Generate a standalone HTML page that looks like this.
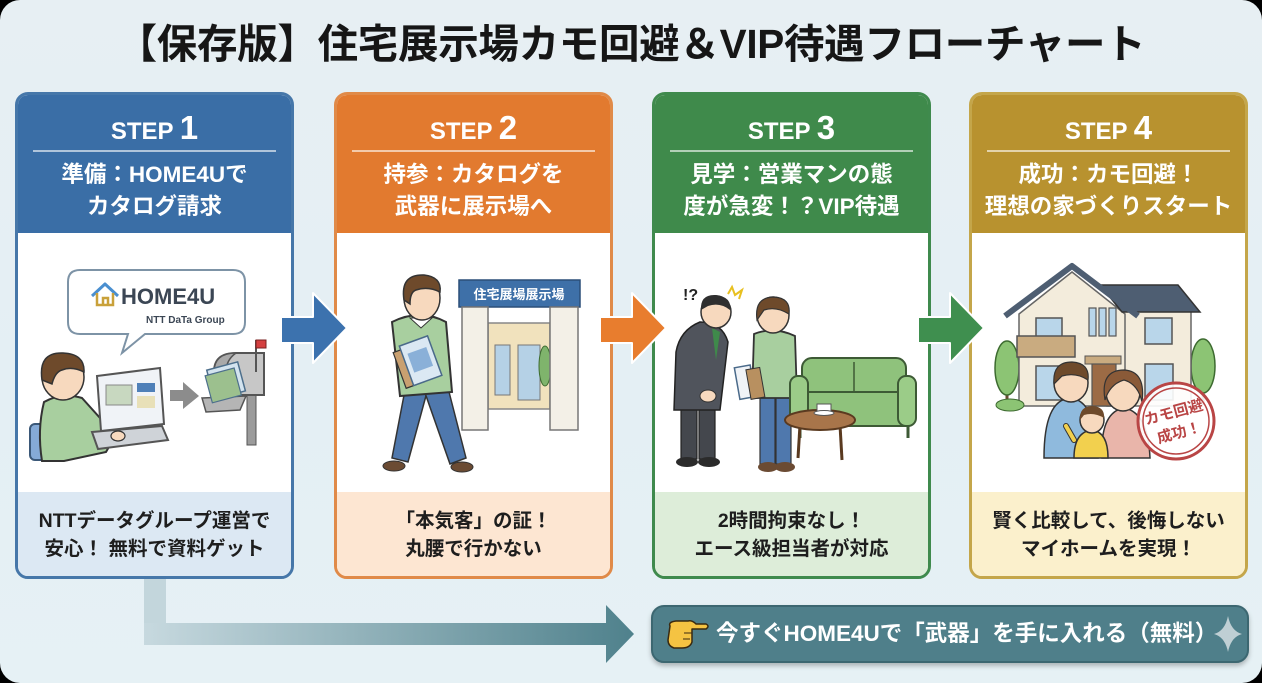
<!DOCTYPE html>
<html><head><meta charset="utf-8">
<style>
html,body{margin:0;padding:0;width:1262px;height:683px;overflow:hidden;background:#000;}
#page{position:absolute;left:0;top:0;width:1262px;height:683px;border-radius:20px;background:linear-gradient(180deg,#e7eff3 0%,#e4eff4 60%,#e6f1f5 100%);overflow:hidden;font-family:"Liberation Sans","Noto Sans CJK JP",sans-serif;}
.title{position:absolute;left:0;top:22px;width:1262px;text-align:center;font-size:40.5px;line-height:44px;font-weight:bold;color:#161616;font-family:"Liberation Sans","Noto Sans CJK JP",sans-serif;letter-spacing:-0.3px;}
.card{position:absolute;top:92px;width:279px;height:487px;box-sizing:border-box;border:3px solid;border-radius:13px;overflow:hidden;background:#fff;}
.head{position:absolute;left:0;top:0;right:0;height:138px;color:#fff;}
.step{position:absolute;left:0;right:0;top:14px;height:38px;line-height:38px;text-align:center;font-weight:bold;font-size:24px;}
.step b{font-size:33px;}
.div{position:absolute;left:15px;right:15px;top:55px;height:2px;background:rgba(255,255,255,.6);}
.ttl{position:absolute;left:0;right:0;top:64px;text-align:center;font-weight:bold;font-size:22.5px;line-height:32px;font-family:"Liberation Sans","Noto Sans CJK JP",sans-serif;}
.foot{position:absolute;left:0;right:0;top:397px;height:90px;text-align:center;font-weight:bold;font-size:19.5px;line-height:28px;color:#1e1e1e;padding-top:15px;box-sizing:border-box;}
.c1{left:15px;border-color:#4677a9;} .c1 .head{background:#3a6ea6;} .c1 .foot{background:#dce8f3;}
.c2{left:334px;border-color:#e08a48;} .c2 .head{background:#e27a2f;} .c2 .foot{background:#fde6d2;}
.c3{left:652px;border-color:#3f8a4d;} .c3 .head{background:#3f8a4b;} .c3 .foot{background:#ddedd9;}
.c4{left:969px;border-color:#c4a64a;} .c4 .head{background:#b8922f;} .c4 .foot{background:#fbf0cc;}
.cta{position:absolute;left:651px;top:605px;width:598px;height:58px;box-sizing:border-box;border-radius:13px;background:#4f7f8a;border:2px solid #3c6771;box-shadow:0 3px 5px rgba(0,0,0,.25);}
.ctatext{position:absolute;left:716px;top:617px;font-size:22.5px;line-height:34px;font-weight:bold;color:#fff;white-space:nowrap;}
svg{position:absolute;left:0;top:0;}
</style></head>
<body><div id="page">
<div class="title">【保存版】住宅展示場カモ回避＆VIP待遇フローチャート</div>

<div class="card c1"><div class="head"><div class="step">STEP <b>1</b></div><div class="div"></div><div class="ttl">準備：HOME4Uで<br>カタログ請求</div></div>
<div class="foot">NTTデータグループ運営で<br>安心！ 無料で資料ゲット</div></div>

<div class="card c2"><div class="head"><div class="step">STEP <b>2</b></div><div class="div"></div><div class="ttl">持参：カタログを<br>武器に展示場へ</div></div>
<div class="foot">「本気客」の証！<br>丸腰で行かない</div></div>

<div class="card c3"><div class="head"><div class="step">STEP <b>3</b></div><div class="div"></div><div class="ttl">見学：営業マンの態<br>度が急変！？VIP待遇</div></div>
<div class="foot">2時間拘束なし！<br>エース級担当者が対応</div></div>

<div class="card c4"><div class="head"><div class="step">STEP <b>4</b></div><div class="div"></div><div class="ttl">成功：カモ回避！<br>理想の家づくりスタート</div></div>
<div class="foot">賢く比較して、後悔しない<br>マイホームを実現！</div></div>

<div class="cta"></div>

<svg width="1262" height="683" viewBox="0 0 1262 683" xmlns="http://www.w3.org/2000/svg">
<defs>
<linearGradient id="bar" x1="0" x2="1" y1="0" y2="0">
<stop offset="0" stop-color="#c7d9df"/><stop offset="1" stop-color="#4f818c"/>
</linearGradient>
</defs>
<g stroke="#fff" stroke-width="2" stroke-linejoin="round">
<path d="M281 317 H313 V293 L347 328 L313 363 V343 H281 Z" fill="#3c72ae"/>
<path d="M600 317 H632 V293 L666 328 L632 363 V343 H600 Z" fill="#e87d2e"/>
<path d="M918 317 H950 V293 L984 328 L950 363 V343 H918 Z" fill="#3f8f4f"/>
</g>
<rect x="144" y="579" width="22" height="66" fill="#c3d6dc"/>
<path d="M144 623 H606 V605 L634 634 L606 663 V645 H144 Z" fill="url(#bar)"/>

<!-- Card 1 -->
<path d="M80 270 H233 Q245 270 245 282 V322 Q245 334 233 334 H145 L122 353 L128 334 H80 Q68 334 68 322 V282 Q68 270 80 270 Z" fill="#fff" stroke="#7d93a6" stroke-width="2"/>
<path d="M92 296 L105 284 L118 296" fill="none" stroke="#4a8fd0" stroke-width="3" stroke-linejoin="round"/>
<path d="M97 293 V305 H113 V293 M103 305 V298 H108 V305" fill="none" stroke="#c9a13a" stroke-width="2.5"/>
<text x="121" y="304" font-size="22" font-weight="bold" fill="#3b4654" font-family="Liberation Sans, sans-serif">HOME4U</text>
<text x="146" y="323" font-size="10" font-weight="bold" fill="#3b4654" font-family="Liberation Sans, sans-serif">NTT DaTa Group</text>
<rect x="30" y="424" width="36" height="36" rx="5" fill="#85aad6" stroke="#3b5878" stroke-width="2"/>
<path d="M44 402 Q62 392 82 398 L100 418 L114 438 L106 452 L64 461 L42 461 Q37 430 44 402 Z" fill="#a8cf9f" stroke="#333" stroke-width="2"/>
<ellipse cx="63" cy="377" rx="21" ry="23" fill="#f7d9be" stroke="#333" stroke-width="1.5"/>
<path d="M42 380 Q38 352 63 353 Q85 354 84 372 Q72 366 62 370 Q55 372 52 384 Z" fill="#6e4a2b" stroke="#333" stroke-width="1.5"/>
<path d="M97 376 L160 368 L164 424 L101 431 Z" fill="#f0f3f7" stroke="#555" stroke-width="2"/>
<rect x="106" y="385" width="26" height="20" fill="#c8d8c0" stroke="#888" stroke-width="1"/>
<rect x="137" y="383" width="18" height="9" fill="#4f80b8"/>
<rect x="137" y="396" width="18" height="12" fill="#e8e0b8"/>
<path d="M92 432 L162 426 L168 440 L98 449 Z" fill="#cfd3d8" stroke="#555" stroke-width="2"/>
<ellipse cx="118" cy="436" rx="7" ry="5" fill="#f7d9be" stroke="#333" stroke-width="1.2"/>
<path d="M170 390 H183 V382 L199 396 L183 409 V401 H170 Z" fill="#8c8c8c"/>
<rect x="247" y="394" width="9" height="51" fill="#9b9b9b" stroke="#555" stroke-width="1"/>
<path d="M214 395 V372 Q214 353 236 353 H264 V395 Z" fill="#c7c7c7" stroke="#555" stroke-width="2"/>
<path d="M214 372 Q214 353 236 353 Q226 360 226 372 V395 H214 Z" fill="#a9a9a9" stroke="#555" stroke-width="1.5"/>
<path d="M202 398 L246 396 L240 410 L206 412 Z" fill="#b5b5b5" stroke="#555" stroke-width="1.5"/>
<g transform="rotate(-15 228 380)"><rect x="210" y="365" width="32" height="30" fill="#d4e4ef" stroke="#4d6f8c" stroke-width="1.5"/><rect x="207" y="370" width="30" height="28" fill="#9cc08e" stroke="#4d6f8c" stroke-width="1.2"/></g>
<line x1="256" y1="340" x2="256" y2="372" stroke="#555" stroke-width="2"/>
<rect x="256" y="340" width="10" height="8" fill="#d44040" stroke="#7a2020" stroke-width="1"/>

<!-- Card 2 -->
<rect x="459" y="280" width="121" height="27" fill="#3e70a8" stroke="#2c4f78" stroke-width="1.5"/>
<text x="519" y="299" font-size="13" font-weight="bold" fill="#fff" text-anchor="middle" font-family="Noto Sans CJK JP, sans-serif">住宅展場展示場</text>
<rect x="488" y="323" width="62" height="86" fill="#f1e2bd" stroke="#888" stroke-width="1.5"/>
<rect x="495" y="345" width="15" height="50" fill="#b5d1e6" stroke="#777" stroke-width="1"/>
<rect x="518" y="345" width="22" height="55" fill="#b5d1e6" stroke="#777" stroke-width="1"/>
<ellipse cx="545" cy="366" rx="6" ry="20" fill="#7fb46c" stroke="#3d6b30" stroke-width="1"/>
<rect x="462" y="307" width="26" height="123" fill="#f3f0e7" stroke="#777" stroke-width="1.5"/>
<rect x="550" y="307" width="28" height="123" fill="#f3f0e7" stroke="#777" stroke-width="1.5"/>
<path d="M405 390 L427 392 L408 462 L392 458 Z" fill="#4f78ad" stroke="#333" stroke-width="1.5"/>
<path d="M424 390 L448 388 L466 458 L450 464 Z" fill="#4f78ad" stroke="#333" stroke-width="1.5"/>
<ellipse cx="394" cy="466" rx="11" ry="5" fill="#6b4b33" stroke="#333" stroke-width="1"/>
<ellipse cx="462" cy="467" rx="11" ry="5" fill="#6b4b33" stroke="#333" stroke-width="1"/>
<path d="M392 322 Q420 308 446 322 L452 392 L400 396 Z" fill="#a8cf9f" stroke="#333" stroke-width="2"/>
<path d="M410 318 L421 328 L432 318 Z" fill="#fff" stroke="#333" stroke-width="1"/>
<ellipse cx="422" cy="298" rx="18" ry="22" fill="#f7d9be" stroke="#333" stroke-width="1.5"/>
<path d="M404 300 Q400 274 424 275 Q442 277 440 292 Q428 286 416 290 Q410 292 410 304 Z" fill="#6e4a2b" stroke="#333" stroke-width="1.5"/>
<g transform="rotate(-20 420 362)"><rect x="398" y="344" width="20" height="38" fill="#c9a070" stroke="#333" stroke-width="1.2"/><rect x="406" y="340" width="30" height="42" fill="#dbe8f3" stroke="#4a6a8a" stroke-width="1.5"/><rect x="411" y="350" width="20" height="20" fill="#8ab0d8"/></g>

<!-- Card 3 -->
<text x="683" y="300" font-size="16" font-weight="bold" fill="#222" font-family="Liberation Sans, sans-serif">!?</text>
<path d="M728 294 L732 287 L735 295 L742 290 L739 299" fill="none" stroke="#e8c020" stroke-width="2"/>
<rect x="681" y="405" width="16" height="54" fill="#44474d" stroke="#222" stroke-width="1.2"/>
<rect x="699" y="405" width="16" height="54" fill="#44474d" stroke="#222" stroke-width="1.2"/>
<ellipse cx="687" cy="462" rx="11" ry="5" fill="#2b2b2b"/>
<ellipse cx="709" cy="462" rx="11" ry="5" fill="#2b2b2b"/>
<path d="M700 322 Q680 330 676 352 L674 410 L720 410 L728 342 Q722 322 700 322 Z" fill="#50545c" stroke="#222" stroke-width="1.5"/>
<path d="M712 328 L716 360 L720 332 Z" fill="#3f8a4b"/>
<ellipse cx="716" cy="312" rx="15" ry="16" fill="#f7d9be" stroke="#333" stroke-width="1.5"/>
<path d="M701 310 Q700 294 716 295 Q732 297 730 310 Q720 302 708 306 Z" fill="#2f2f2f"/>
<ellipse cx="708" cy="396" rx="8" ry="6" fill="#f7d9be" stroke="#333" stroke-width="1"/>
<rect x="760" y="396" width="15" height="68" fill="#4f78ad" stroke="#333" stroke-width="1.2"/>
<rect x="776" y="396" width="15" height="68" fill="#4f78ad" stroke="#333" stroke-width="1.2"/>
<ellipse cx="768" cy="467" rx="10" ry="5" fill="#6b4b33"/>
<ellipse cx="785" cy="467" rx="10" ry="5" fill="#6b4b33"/>
<path d="M754 334 Q774 326 795 336 L797 398 L752 398 Z" fill="#a8cf9f" stroke="#333" stroke-width="1.8"/>
<ellipse cx="773" cy="315" rx="16" ry="18" fill="#f7d9be" stroke="#333" stroke-width="1.5"/>
<path d="M757 320 Q754 297 774 297 Q791 298 789 314 Q776 306 764 310 Z" fill="#6e4a2b" stroke="#333" stroke-width="1.2"/>
<g transform="rotate(-10 746 382)"><rect x="737" y="366" width="16" height="32" fill="#f0f3f7" stroke="#4a6a8a" stroke-width="1.5"/><rect x="748" y="370" width="14" height="30" fill="#b89060" stroke="#333" stroke-width="1"/></g>
<rect x="802" y="358" width="104" height="40" rx="10" fill="#8fc27c" stroke="#3d5a35" stroke-width="2"/>
<line x1="854" y1="362" x2="854" y2="396" stroke="#3d5a35" stroke-width="1.5"/>
<rect x="796" y="392" width="116" height="34" rx="8" fill="#8fc27c" stroke="#3d5a35" stroke-width="2"/>
<rect x="790" y="376" width="18" height="50" rx="8" fill="#9bcc88" stroke="#3d5a35" stroke-width="2"/>
<rect x="898" y="376" width="18" height="50" rx="8" fill="#9bcc88" stroke="#3d5a35" stroke-width="2"/>
<line x1="800" y1="426" x2="800" y2="438" stroke="#3d5a35" stroke-width="3"/>
<line x1="908" y1="426" x2="908" y2="438" stroke="#3d5a35" stroke-width="3"/>
<line x1="800" y1="425" x2="798" y2="458" stroke="#5a3a20" stroke-width="3"/>
<line x1="840" y1="425" x2="842" y2="460" stroke="#5a3a20" stroke-width="3"/>
<ellipse cx="820" cy="420" rx="35" ry="10" fill="#a8754a" stroke="#5a3a20" stroke-width="2"/>
<path d="M817 404 H831 V412 Q824 416 817 412 Z" fill="#fff" stroke="#555" stroke-width="1"/>
<ellipse cx="824" cy="413" rx="10" ry="2.5" fill="#fff" stroke="#555" stroke-width="1"/>

<!-- Card 4 -->
<line x1="1007" y1="385" x2="1007" y2="405" stroke="#6b4b33" stroke-width="3"/>
<ellipse cx="1007" cy="368" rx="12" ry="27" fill="#8cc474" stroke="#3d6b30" stroke-width="1.5"/>
<line x1="1203" y1="383" x2="1203" y2="405" stroke="#6b4b33" stroke-width="3"/>
<ellipse cx="1203" cy="366" rx="12" ry="27" fill="#8cc474" stroke="#3d6b30" stroke-width="1.5"/>
<rect x="1107" y="306" width="84" height="100" fill="#f3ecdc" stroke="#666" stroke-width="1.5"/>
<path d="M1019 314 L1072 272 L1125 314 V406 H1019 Z" fill="#f3ecdc" stroke="#666" stroke-width="1.5"/>
<path d="M1100 285 H1178 L1200 312 H1122 Z" fill="#4e5e72" stroke="#333" stroke-width="1.5"/>
<path d="M1005 316 L1072 266 L1138 316" fill="none" stroke="#4e5e72" stroke-width="6" stroke-linejoin="round"/>
<rect x="1036" y="318" width="26" height="26" fill="#b9d6ea" stroke="#555" stroke-width="1.5"/>
<rect x="1089" y="308" width="7" height="28" fill="#b9d6ea" stroke="#555" stroke-width="1.2"/>
<rect x="1099" y="308" width="7" height="28" fill="#b9d6ea" stroke="#555" stroke-width="1.2"/>
<rect x="1109" y="308" width="7" height="28" fill="#b9d6ea" stroke="#555" stroke-width="1.2"/>
<rect x="1145" y="318" width="27" height="26" fill="#b9d6ea" stroke="#555" stroke-width="1.5"/>
<rect x="1017" y="336" width="58" height="21" fill="#c9ab80" stroke="#555" stroke-width="1.5"/>
<rect x="1036" y="366" width="26" height="34" fill="#b9d6ea" stroke="#555" stroke-width="1.5"/>
<rect x="1145" y="364" width="28" height="36" fill="#b9d6ea" stroke="#555" stroke-width="1.5"/>
<rect x="1085" y="356" width="36" height="8" fill="#c9ab80" stroke="#555" stroke-width="1"/>
<rect x="1092" y="364" width="24" height="42" fill="#9c6b45" stroke="#555" stroke-width="1.2"/>
<ellipse cx="1010" cy="405" rx="14" ry="6" fill="#8cc474" stroke="#3d6b30" stroke-width="1"/>
<path d="M1044 458 Q1044 400 1070 398 Q1096 400 1098 458 Z" fill="#8fbadd" stroke="#333" stroke-width="1.5"/>
<ellipse cx="1071" cy="383" rx="17" ry="19" fill="#f7d9be" stroke="#333" stroke-width="1.5"/>
<path d="M1054 384 Q1052 362 1072 362 Q1090 363 1088 380 Q1076 372 1062 376 Z" fill="#6e4a2b" stroke="#333" stroke-width="1.2"/>
<path d="M1102 458 Q1100 412 1124 408 Q1148 412 1150 458 Z" fill="#e9b5aa" stroke="#333" stroke-width="1.5"/>
<ellipse cx="1123" cy="392" rx="17" ry="19" fill="#f7d9be" stroke="#333" stroke-width="1.5"/>
<path d="M1105 400 Q1100 370 1124 370 Q1146 371 1142 402 Q1138 384 1124 380 Q1110 384 1105 400 Z" fill="#8a5a38" stroke="#333" stroke-width="1.2"/>
<path d="M1074 458 Q1074 432 1092 430 Q1108 432 1108 458 Z" fill="#f2d04e" stroke="#333" stroke-width="1.5"/>
<path d="M1074 440 L1066 426" stroke="#333" stroke-width="6" stroke-linecap="round"/>
<path d="M1074 440 L1066 426" stroke="#f2d04e" stroke-width="4" stroke-linecap="round"/>
<ellipse cx="1092" cy="420" rx="12" ry="13" fill="#f7d9be" stroke="#333" stroke-width="1.5"/>
<path d="M1080 420 Q1079 406 1093 406 Q1105 407 1104 418 Q1094 412 1084 415 Z" fill="#6e4a2b"/>
<circle cx="1176" cy="421" r="38" fill="rgba(255,255,255,.9)" stroke="#b94545" stroke-width="3"/>
<circle cx="1176" cy="421" r="33" fill="none" stroke="#b94545" stroke-width="1.5"/>
<g transform="rotate(-15 1176 421)" font-family="Noto Sans CJK JP, sans-serif" font-weight="bold" fill="#b94545" text-anchor="middle">
<text x="1176" y="417" font-size="15">カモ回避</text>
<text x="1176" y="438" font-size="15">成功！</text>
</g>

<!-- CTA hand -->
<g stroke="#3a2a10" stroke-width="1.5" stroke-linejoin="round">
<path d="M670 626 Q668 622 676 621 L688 621 Q692 620 696 624 L706 624 Q710 626 706 629 L692 629 L692 642 Q690 648 682 648 L674 648 Q668 646 668 640 Z" fill="#f5c342"/>
<line x1="692" y1="633" x2="684" y2="633" stroke-width="1"/>
<line x1="690" y1="639" x2="683" y2="639" stroke-width="1"/>
</g>
<path d="M1228 616 Q1231 631 1242 634 Q1231 637 1228 652 Q1225 637 1214 634 Q1225 631 1228 616 Z" fill="#cbd8dc" opacity="0.9"/>
</svg>

<div class="ctatext">今すぐHOME4Uで「武器」を手に入れる（無料）</div>
</div></body></html>
